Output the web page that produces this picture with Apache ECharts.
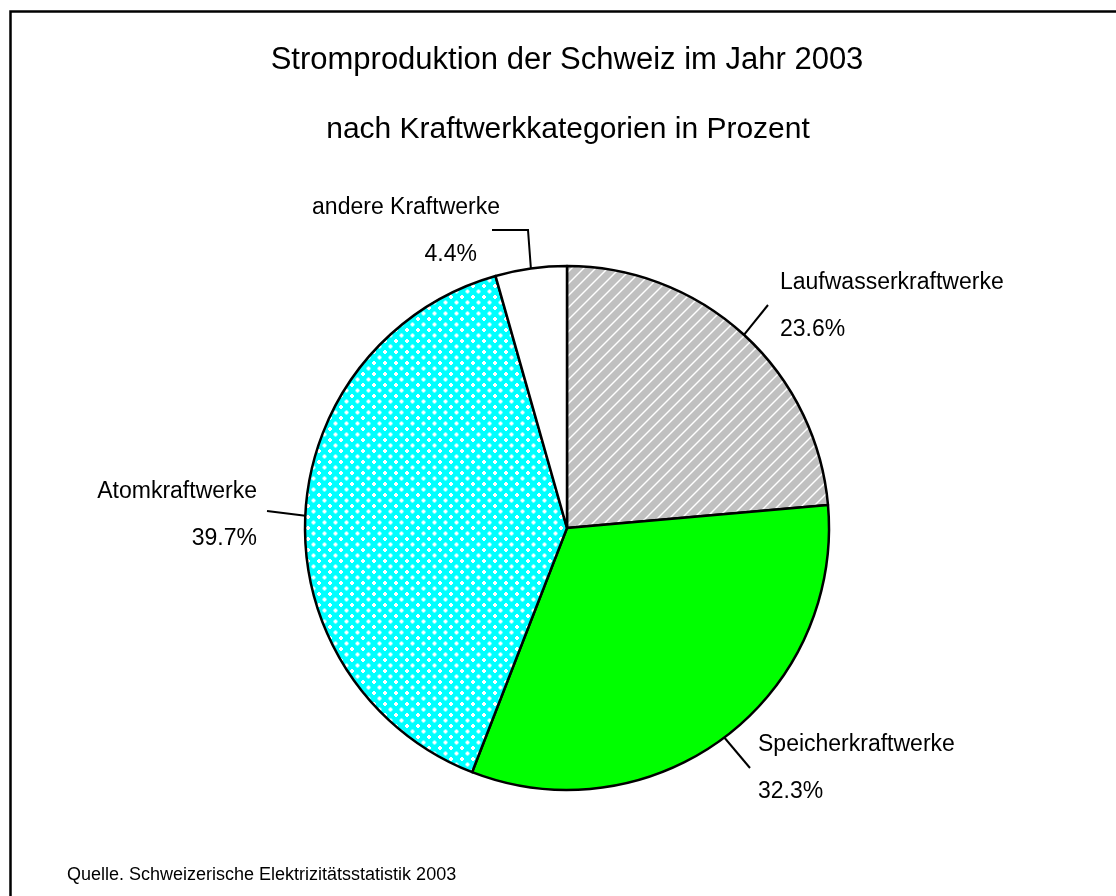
<!DOCTYPE html>
<html><head><meta charset="utf-8">
<script src="https://cdn.jsdelivr.net/npm/echarts@6/dist/echarts.min.js"></script>
<style>html,body{margin:0;padding:0;background:#fff}#c{width:1116px;height:896px}</style>
</head><body><div id="c"></div>
<script>
const titleLines = ['Stromproduktion der Schweiz im Jahr 2003', 'nach Kraftwerkkategorien in Prozent'];
const sourceText = 'Quelle. Schweizerische Elektrizitätsstatistik 2003';
const categories = ['Laufwasserkraftwerke', 'Speicherkraftwerke', 'Atomkraftwerke', 'andere Kraftwerke'];
const values = [23.6, 32.3, 39.7, 4.4];

function makePattern(kind) {
  const c = document.createElement('canvas');
  const g = c.getContext('2d');
  if (kind === 'hatch') {
    c.width = 12; c.height = 12;
    g.fillStyle = '#c0c0c0'; g.fillRect(0, 0, 12, 12);
    g.strokeStyle = '#ffffff'; g.lineWidth = 1.4;
    g.beginPath(); g.moveTo(-2, 14); g.lineTo(14, -2); g.stroke();
    g.beginPath(); g.moveTo(-2, 2); g.lineTo(2, -2); g.stroke();
    g.beginPath(); g.moveTo(10, 14); g.lineTo(14, 10); g.stroke();
  } else if (kind === 'check') {
    c.width = 11; c.height = 11;
    g.fillStyle = '#00ffff'; g.fillRect(0, 0, 11, 11);
    g.fillStyle = '#ffffff';
    const spots = [[5.5, 5.5], [0, 0], [11, 0], [0, 11], [11, 11]];
    spots.forEach(([x, y]) => {
      g.fillRect(x - 2, y - 1, 4, 2);
      g.fillRect(x - 1, y - 2, 2, 4);
    });
  }
  return { image: c, repeat: 'repeat' };
}
const fills = [makePattern('hatch'), '#00ff00', makePattern('check'), '#ffffff'];

const labelPos = [
  { x: 780, y: 306, align: 'left', pts: [[768, 305]] },
  { x: 758, y: 768, align: 'left', pts: [[750, 768]] },
  { x: 257, y: 515, align: 'right', pts: [[267, 511]] },
  { x: 500, y: 231, align: 'right', pts: [[528, 230], [492, 230]], vpad: 23 }
];

const FONT = '"Liberation Sans", Arial, sans-serif';
const chart = echarts.init(document.getElementById('c'), null, { renderer: 'canvas' });
chart.setOption({
  backgroundColor: '#ffffff',
  animation: false,
  title: [
    { text: titleLines[0], left: 562, top: 40, textAlign: 'center', textStyle: { fontFamily: FONT, fontSize: 31, fontWeight: 'normal', color: '#000' } },
    { text: titleLines[1], left: 563, top: 110, textAlign: 'center', textStyle: { fontFamily: FONT, fontSize: 30, fontWeight: 'normal', color: '#000' } },
    { text: sourceText, left: 62, top: 861, textStyle: { fontFamily: FONT, fontSize: 18, fontWeight: 'normal', color: '#000' } }
  ],
  graphic: [{
    type: 'rect', shape: { x: 10.5, y: 11.5, width: 1200, height: 1000 },
    style: { fill: 'none', stroke: '#000', lineWidth: 2.5 }, silent: true
  }],
  series: [{
    type: 'pie',
    center: [567, 528],
    radius: 262,
    startAngle: 90,
    clockwise: true,
    itemStyle: { borderColor: '#000', borderWidth: 2.5 },
    emphasis: { disabled: true },
    data: categories.map((n, i) => ({ name: n, value: values[i], itemStyle: { color: fills[i] },
      label: { rich: { v: { padding: [0, labelPos[i].vpad || 0, 0, 0] } } } })),
    label: {
      show: true,
      formatter: p => '{n|' + p.name + '}\n{v|' + values[p.dataIndex].toFixed(1) + '%}',
      rich: {
        n: { fontFamily: FONT, fontSize: 23, color: '#000', lineHeight: 47 },
        v: { fontFamily: FONT, fontSize: 23, color: '#000', lineHeight: 47 }
      }
    },
    labelLine: { show: true, lineStyle: { color: '#000', width: 2 }, length: 10, length2: 10 },
    labelLayout: function (p) {
      const lp = labelPos[p.dataIndex];
      const start = p.labelLinePoints ? p.labelLinePoints[0] : null;
      const pts = start ? [start].concat(lp.pts) : null;
      const r = { x: lp.x, y: lp.y, align: lp.align, verticalAlign: 'middle' };
      if (pts) r.labelLinePoints = pts.length === 2 ? [pts[0], pts[1], pts[1]] : pts;
      return r;
    }
  }]
});
</script></body></html>
